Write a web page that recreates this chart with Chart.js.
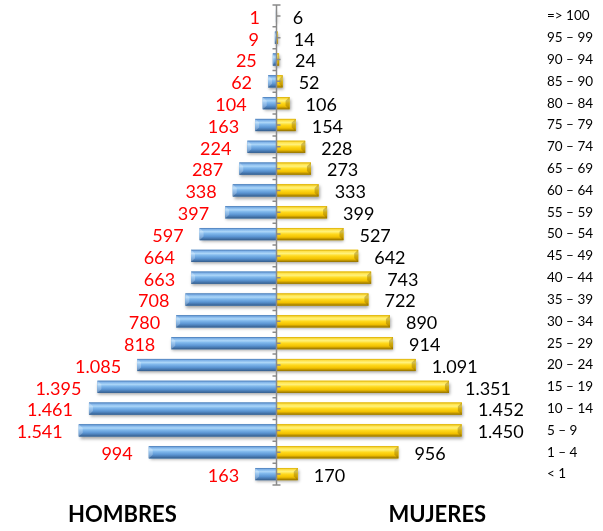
<!DOCTYPE html>
<html><head><meta charset="utf-8">
<script src="https://cdn.jsdelivr.net/npm/chart.js@4.4.0/dist/chart.umd.min.js"></script>
<style>html,body{margin:0;padding:0;background:#fff}#wrap{width:603px;height:531px}</style>
</head><body><div id="wrap"><canvas id="c" width="603" height="531"></canvas></div>
<script>
const ageGroups = ['=> 100','95 – 99','90 – 94','85 – 90','80 – 84','75 – 79','70 – 74','65 – 69','60 – 64','55 – 59','50 – 54','45 – 49','40 – 44','35 – 39','30 – 34','25 – 29','20 – 24','15 – 19','10 – 14','5 – 9','1 – 4','< 1'];
const hombres = [1,9,25,62,104,163,224,287,338,397,597,664,663,708,780,818,1085,1395,1461,1541,994,163];
const mujeres = [6,14,24,52,106,154,228,273,333,399,527,642,743,722,890,914,1091,1351,1452,1450,956,170];
const sexLabels = ['HOMBRES','MUJERES'];

function fmt(v){ return String(Math.abs(v)).replace(/\B(?=(\d{3})+(?!\d))/g,'.'); }

const blueStops = [[0,'#4677b3'],[0.12,'#7fb2e8'],[0.3,'#acd6f8'],[0.45,'#80b8ec'],[0.7,'#5b95d3'],[0.88,'#4474aa'],[1,'#335b8a']];
const goldStops = [[0,'#d9ad00'],[0.14,'#ffe34d'],[0.3,'#fff27c'],[0.5,'#ffd91c'],[0.75,'#f2c100'],[0.9,'#b88f00'],[1,'#8c6d00']];

const barStyle = {
  id:'barStyle',
  beforeDatasetsDraw(chart){
    const ctx = chart.ctx;
    ctx.save();
    ctx.shadowColor = 'rgba(0,0,0,0.35)';
    ctx.shadowBlur = 3;
    ctx.shadowOffsetY = 2;
    ctx.shadowOffsetX = 1;
  },
  afterDatasetsDraw(chart){
    const ctx = chart.ctx;
    ctx.restore();
    chart.data.datasets.forEach((ds, di) => {
      const meta = chart.getDatasetMeta(di);
      const stops = di === 0 ? blueStops : goldStops;
      meta.data.forEach((el) => {
        const p = el.getProps(['x','y','base','height'], true);
        const left = Math.min(p.x, p.base), right = Math.max(p.x, p.base);
        const top = p.y - p.height/2, h = p.height;
        if (right - left < 0.5) return;
        const g = ctx.createLinearGradient(0, top, 0, top + h);
        stops.forEach(s => g.addColorStop(s[0], s[1]));
        ctx.save();
        ctx.fillStyle = g;
        ctx.fillRect(left, top, right - left, h);
        const w = Math.min(4, (right-left)/2);
        if (di === 0) {
          ctx.fillStyle = 'rgba(255,255,255,0.25)';
          ctx.beginPath(); ctx.moveTo(left, top); ctx.lineTo(left+w, top+h*0.3); ctx.lineTo(left+w, top+h*0.7); ctx.lineTo(left, top+h); ctx.closePath(); ctx.fill();
        } else {
          ctx.fillStyle = 'rgba(120,90,0,0.35)';
          ctx.beginPath(); ctx.moveTo(right, top); ctx.lineTo(right-w, top+h*0.3); ctx.lineTo(right-w, top+h*0.7); ctx.lineTo(right, top+h); ctx.closePath(); ctx.fill();
        }
        ctx.restore();
      });
    });
    const xs = chart.scales.x, ys = chart.scales.y, ca = chart.chartArea;
    const x0 = Math.round(xs.getPixelForValue(0)) + 0.5;
    ctx.save();
    ctx.strokeStyle = '#8a8a8a';
    ctx.lineWidth = 1.5;
    ctx.beginPath();
    ctx.moveTo(x0, ca.top); ctx.lineTo(x0, ca.bottom);
    ctx.moveTo(x0-4, ca.top); ctx.lineTo(x0+4, ca.top);
    ctx.moveTo(x0-4, ca.bottom); ctx.lineTo(x0+4, ca.bottom);
    const n = ageGroups.length;
    for (let i = 0; i < n; i++) {
      const yc = ys.getPixelForValue(i);
      ctx.moveTo(x0, yc); ctx.lineTo(x0+4, yc);
      if (i > 0) {
        const yb = (ys.getPixelForValue(i-1) + yc) / 2;
        ctx.moveTo(x0-4, yb); ctx.lineTo(x0, yb);
      }
    }
    ctx.stroke();
    ctx.restore();
    ctx.save();
    ctx.font = '18px Lato';
    ctx.textBaseline = 'middle';
    chart.data.datasets.forEach((ds, di) => {
      const meta = chart.getDatasetMeta(di);
      meta.data.forEach((el, i) => {
        const p = el.getProps(['x','y'], true);
        if (di === 0) { ctx.fillStyle = '#ff0000'; ctx.textAlign = 'right'; ctx.fillText(fmt(ds.data[i]), p.x - 16, p.y + 2); }
        else { ctx.fillStyle = '#000000'; ctx.textAlign = 'left'; ctx.fillText(fmt(ds.data[i]), p.x + 16, p.y + 2); }
      });
    });
    ctx.restore();
  }
};

new Chart(document.getElementById('c'), {
  type: 'bar',
  data: {
    labels: ageGroups,
    datasets: [
      { label: 'HOMBRES', data: hombres.map(v => -v), backgroundColor: '#5b9bd5', borderWidth: 0 },
      { label: 'MUJERES', data: mujeres, backgroundColor: '#f5c800', borderWidth: 0 }
    ]
  },
  options: {
    responsive: false, animation: false, indexAxis: 'y',
    layout: { padding: { left: 12, top: 5, right: 0, bottom: 0 } },
    plugins: { legend: { display: false }, tooltip: { enabled: false } },
    datasets: { bar: { barPercentage: 0.56, categoryPercentage: 1 } },
    scales: {
      x: {
        stacked: true, min: -2062, max: 2062,
        grid: { display: false, drawTicks: false }, border: { display: false },
        afterBuildTicks: s => { s.ticks = [{ value: -1200 }, { value: 1260 }]; },
        afterFit: s => { s.height = 46; s.paddingLeft = 0; s.paddingRight = 0; },
        ticks: { autoSkip: false, maxRotation: 0, padding: 17, color: '#000',
          font: { family: 'Lato', size: 22, weight: 'bold' },
          callback: (v, i) => sexLabels[i] }
      },
      y: {
        position: 'right', stacked: true,
        grid: { display: false, drawTicks: false }, border: { display: false },
        afterFit: s => { s.width = 63; s.paddingTop = 0; s.paddingBottom = 0; },
        ticks: { padding: 7, color: '#000', font: { family: 'Lato', size: 13.5 } }
      }
    }
  },
  plugins: [barStyle]
});
</script></body></html>
